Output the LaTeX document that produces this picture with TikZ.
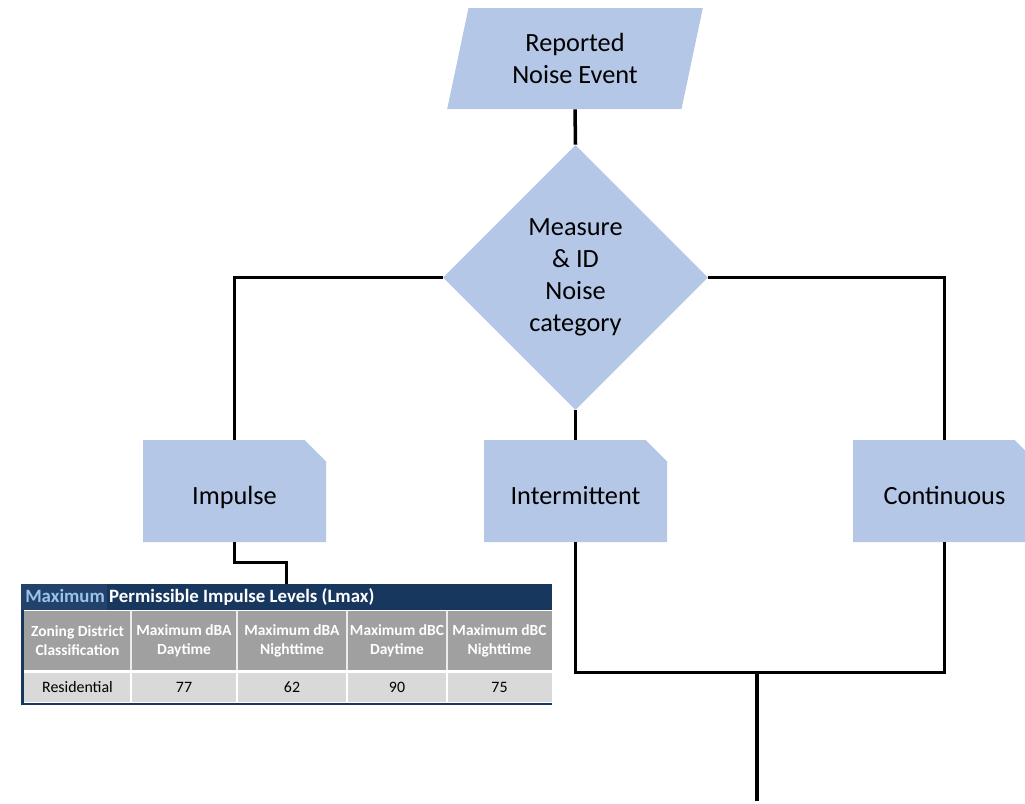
\documentclass[tikz,border=0pt]{standalone}
\usepackage{fontspec}
\setmainfont{Carlito}
\usetikzlibrary{shapes.geometric,shapes.misc}

\definecolor{boxblue}{RGB}{180,199,231}
\definecolor{navy}{RGB}{24,55,94}
\definecolor{navylite}{RGB}{34,66,108}
\definecolor{capblue}{RGB}{157,195,230}
\definecolor{headgray}{RGB}{160,160,160}
\definecolor{rowgray}{RGB}{217,217,217}

\begin{document}
\begin{tikzpicture}[x=0.025cm,y=-0.025cm]

\def\px{0.025cm}
\def\boxw{183}
\def\boxh{102}
\def\linkw{2.5pt}

\tikzset{flowtxt/.style = {font=\fontsize{18.7}{22.7}\selectfont, align=center, inner sep=0pt}}
\tikzset{catbox/.style = {flowtxt, chamfered rectangle, chamfered rectangle corners=north east, chamfered rectangle xsep=0.42cm, fill=boxblue, minimum width=\boxw*\px, minimum height=\boxh*\px, text height=23pt, text depth=3.5pt}}
\tikzset{eventbox/.style = {flowtxt, trapezium, trapezium left angle=76, trapezium right angle=104, trapezium stretches=true, fill=boxblue, minimum width=256*\px, minimum height=101*\px}}
\tikzset{decide/.style = {flowtxt, diamond, fill=boxblue, minimum width=265*\px, minimum height=265*\px}}
\tikzset{link/.style = {draw=black, line width=\linkw}}
\tikzset{headtxt/.style = {font=\bfseries\fontsize{11}{13.5}\selectfont, text=white, align=center, inner sep=0pt}}
\tikzset{celltxt/.style = {font=\fontsize{11.3}{13}\selectfont, align=center, inner sep=0pt}}

\useasboundingbox (0,0) rectangle (1025,803);

% flow
\node[eventbox] (event) at (575,58.5) {Reported\\Noise Event};
\node[decide] (measure) at (575.5,277.5) {Measure\\\& ID\\Noise\\category};
\node[catbox] (impulse) at (234.5,491) {Impulse};
\node[catbox] (inter) at (575.5,491) {Intermittent};
\node[catbox] (cont) at (944.5,491) {Continuous};

\draw[link] (event.south) -- (measure.north);
\draw[link] (measure.west) -| (impulse.north);
\draw[link] (measure.east) -| (cont.north);
\draw[link] (measure.south) -- (inter.north);

\coordinate (merge) at (757,672);
\coordinate (out) at (757,801);
\draw[link] (inter.south) -- ++(0,130) -| (cont.south);
\draw[link, line width=3.5pt] (merge) -- (out);

% table
\node[fill=navy, minimum width=531*\px, minimum height=121*\px, inner sep=0pt] (limits) at (286.5,644.5) {};
\fill[navylite] (21,584) rectangle (107,610);
\node[anchor=west, text=white, font=\bfseries\fontsize{13.4}{16}\selectfont, inner sep=0pt] (title) at (25,597)
  {\textcolor{capblue}{Maximum} Permissible Impulse Levels (Lmax)};
\fill[white] (24,610) rectangle (552,703);
\fill[headgray] (24,611) rectangle (552,670);
\fill[rowgray] (24,673) rectangle (552,702);
\foreach \xs in {131,237,347,447} {
  \draw[white!80!headgray, line width=1pt] (\xs,611) -- (\xs,670);
  \draw[white, line width=1.2pt] (\xs,673) -- (\xs,702);
}
\foreach \xc/\head/\val [count=\i] in {77.5/Zoning District\\Classification/Residential, 184/Maximum dBA\\Daytime/77,
    292/Maximum dBA\\Nighttime/62, 397/Maximum dBC\\Daytime/90, 499.5/Maximum dBC\\Nighttime/75} {
  \node[headtxt] (head\i) at (\xc,641) {\head};
  \node[celltxt] (cell\i) at (\xc,687) {\val};
}

\draw[link] (impulse.south) -- ++(0,20) -| (limits.north);

\end{tikzpicture}
\end{document}
